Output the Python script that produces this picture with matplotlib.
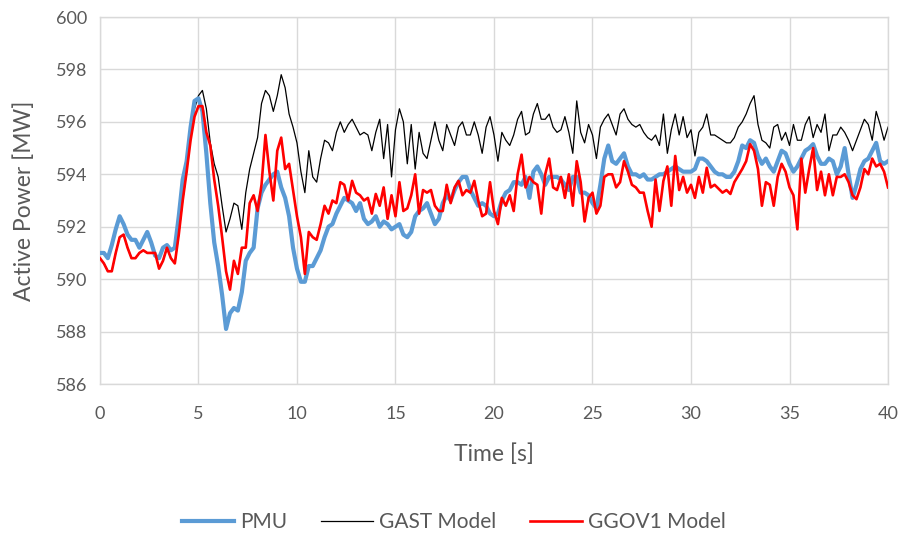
import numpy as np
import matplotlib
matplotlib.use("Agg")
import matplotlib.pyplot as plt

plt.rcParams['font.family'] = ['Lato', 'DejaVu Sans']

# samples every 0.2 s, 0 .. 40 s
pmu = [591.0, 591.0, 590.8, 591.3, 591.9, 592.4, 592.1, 591.7, 591.5, 591.5,
       591.2, 591.5, 591.8, 591.4, 590.9, 590.8, 591.2, 591.3, 591.1, 591.2,
       592.4, 593.8, 594.5, 595.8, 596.8, 596.9, 596.4, 594.8, 592.9, 591.4,
       590.5, 589.4, 588.1, 588.7, 588.9, 588.8, 589.5, 590.7, 591.0, 591.2,
       592.7, 593.3, 593.6, 593.8, 594.0, 594.1, 593.5, 593.1, 592.4, 591.2,
       590.4, 589.9, 589.9, 590.5, 590.5, 590.8, 591.1, 591.6, 592.0, 592.1,
       592.5, 592.8, 593.1, 593.0, 592.9, 592.6, 592.9, 592.3, 592.1, 592.2,
       592.4, 592.0, 592.2, 592.1, 591.9, 592.0, 592.1, 591.7, 591.6, 591.8,
       592.4, 592.6, 592.7, 592.9, 592.5, 592.1, 592.3, 592.9, 593.2, 593.0,
       593.4, 593.7, 593.9, 593.9, 593.4, 593.1, 592.8, 592.9, 592.8, 592.5,
       592.4, 592.5, 593.0, 593.3, 593.4, 593.7, 593.7, 593.6, 593.9, 593.1,
       594.1, 594.3, 594.0, 593.6, 593.9, 593.9, 593.9, 593.8, 593.6, 593.4,
       593.9, 593.9, 593.3, 593.3, 593.2, 592.9, 592.7, 593.6, 594.6, 595.1,
       594.5, 594.4, 594.6, 594.8, 594.3, 594.0, 594.0, 593.9, 594.0, 593.8,
       593.8, 593.9, 594.0, 594.0, 594.1, 594.2, 594.3, 594.2, 594.1, 594.1,
       594.1, 594.2, 594.6, 594.6, 594.5, 594.3, 594.1, 594.0, 594.0, 593.9,
       593.9, 594.1, 594.5, 595.1, 595.0, 595.3, 595.2, 594.7, 594.4, 594.6,
       594.3, 594.1, 594.5, 594.9, 594.8, 594.4, 594.1, 594.3, 594.6, 594.9,
       595.0, 595.15, 594.7, 594.4, 594.4, 594.6, 594.5, 594.0, 594.3, 595.0,
       594.0, 593.1, 593.6, 594.2, 594.5, 594.6, 594.9, 595.2, 594.5, 594.4,
       594.5]

gast = [590.8, 590.6, 590.3, 590.3, 591.0, 591.6, 591.7, 591.2, 590.8, 590.8,
        591.0, 591.1, 591.0, 591.0, 591.0, 590.4, 590.7, 591.2, 590.8, 590.6,
        591.7, 593.0, 594.1, 595.5, 596.5, 597.0, 597.2, 596.5, 595.2, 594.4,
        593.9, 592.8, 591.8, 592.3, 592.9, 592.8, 591.9, 593.3, 594.2, 594.8,
        595.4, 596.7, 597.2, 597.0, 596.4, 597.0, 597.8, 597.3, 596.3, 595.8,
        595.2, 594.1, 593.3, 594.9, 593.9, 593.7, 594.6, 595.3, 595.2, 594.9,
        595.6, 596.0, 595.6, 595.9, 596.1, 595.8, 595.5, 595.6, 595.5, 594.9,
        595.6, 596.1, 594.6, 595.9, 593.9, 595.7, 596.5, 596.0, 594.4, 595.9,
        594.2, 595.6, 594.8, 594.6, 595.3, 596.0, 595.3, 594.9, 595.9, 595.5,
        595.1, 595.8, 596.0, 595.5, 595.5, 596.0, 595.5, 594.8, 595.8, 596.2,
        595.5, 594.5, 595.6, 595.3, 595.1, 595.5, 596.1, 596.4, 595.5, 595.6,
        596.3, 596.7, 596.1, 596.1, 596.3, 595.8, 595.6, 595.7, 596.2, 595.6,
        594.8, 596.8, 595.6, 595.2, 595.9, 595.5, 594.6, 595.8, 596.1, 596.3,
        595.9, 595.5, 596.3, 596.5, 596.1, 595.9, 595.8, 595.9, 595.6, 595.4,
        595.3, 595.5, 595.1, 596.3, 594.8, 595.7, 596.3, 595.5, 596.2, 595.4,
        595.7, 594.7, 595.6, 595.8, 596.3, 595.5, 595.5, 595.4, 595.3, 595.2,
        595.2, 595.4, 595.8, 596.0, 596.3, 596.7, 597.0, 595.9, 595.3, 595.2,
        595.0, 595.8, 595.9, 595.3, 595.6, 595.1, 595.9, 595.3, 595.3, 595.9,
        596.2, 595.4, 595.9, 595.6, 596.3, 594.9, 595.5, 595.5, 595.8, 595.6,
        595.3, 594.9, 595.3, 595.7, 596.1, 595.9, 595.3, 596.4, 595.9, 595.3,
        595.8]

ggov1 = [590.8, 590.6, 590.3, 590.3, 591.0, 591.6, 591.7, 591.2, 590.8, 590.8,
         591.0, 591.1, 591.0, 591.0, 591.0, 590.4, 590.7, 591.2, 590.8, 590.6,
         591.7, 593.0, 594.1, 595.3, 596.2, 596.6, 596.6, 595.6, 595.1, 593.8,
         592.8, 591.6, 590.3, 589.6, 590.7, 590.2, 591.2, 591.2, 592.9, 593.2,
         592.6, 593.6, 595.5, 594.1, 593.0, 594.9, 595.4, 594.2, 594.4, 593.4,
         592.4, 591.6, 590.2, 591.8, 591.6, 591.5, 592.1, 592.8, 592.5, 593.0,
         592.9, 593.7, 593.6, 593.0, 593.75, 593.3, 593.2, 593.0, 593.1, 592.5,
         593.25, 592.8, 593.5, 592.3, 593.2, 592.4, 593.7, 592.6, 592.7, 593.2,
         594.0, 592.5, 593.4, 593.3, 593.4, 592.8, 592.6, 592.6, 593.6, 592.9,
         593.5, 593.75, 593.2, 593.4, 593.3, 593.75, 593.0, 592.4, 592.5, 593.7,
         592.6, 592.1, 593.1, 592.8, 593.2, 592.6, 594.0, 594.75, 593.5, 593.9,
         593.7, 593.6, 592.5, 594.0, 594.6, 593.5, 593.4, 593.9, 593.1, 594.0,
         592.8, 594.5, 593.7, 592.2, 593.1, 593.3, 592.5, 592.8, 593.9, 594.0,
         594.0, 593.5, 593.7, 594.5, 594.1, 593.6, 593.5, 593.3, 593.3, 592.6,
         592.0, 593.8, 592.6, 593.75, 594.3, 592.8, 594.7, 593.4, 593.9, 593.3,
         593.6, 593.1, 593.9, 593.3, 594.25, 593.5, 593.6, 593.45, 593.3, 593.4,
         593.25, 593.7, 593.95, 594.2, 594.5, 595.15, 594.9, 594.2, 592.8, 593.7,
         593.6, 592.8, 593.9, 594.4, 594.1, 593.5, 593.2, 591.9, 594.6, 593.3,
         594.2, 595.0, 593.4, 594.1, 593.2, 594.0, 593.2, 593.9, 593.9, 594.0,
         593.7, 593.2, 593.05, 593.5, 594.2, 594.0, 594.6, 594.3, 594.4, 594.1,
         593.5]

x_ticks = [0, 5, 10, 15, 20, 25, 30, 35, 40]
y_ticks = [586, 588, 590, 592, 594, 596, 598, 600]

text_col = '#595959'
grid_col = '#d9d9d9'

fig = plt.figure(figsize=(9.03, 5.37), dpi=100)
ax = fig.add_axes([0.1107, 0.2849, 0.8727, 0.6834])

t_pmu = np.linspace(0, 40, len(pmu))
t_gast = np.linspace(0, 40, len(gast))
t_ggov = np.linspace(0, 40, len(ggov1))

ax.plot(t_pmu, pmu, color='#5B9BD5', lw=3.0, label='PMU', zorder=3)
ax.plot(t_gast, gast, color='black', lw=0.9, label='GAST Model', zorder=2)
ax.plot(t_ggov, ggov1, color='#FF0000', lw=1.9, label='GGOV1 Model', zorder=4)

ax.set_xlim(0, 40)
ax.set_ylim(586, 600)
ax.set_xticks(x_ticks)
ax.set_yticks(y_ticks)
ax.grid(True, color=grid_col, lw=1.0)
ax.set_axisbelow(True)
for s in ax.spines.values():
    s.set_color(grid_col)
    s.set_linewidth(1.0)
ax.tick_params(length=0, colors=text_col, labelsize=13)
ax.tick_params(axis='x', pad=16)
ax.tick_params(axis='y', pad=9)

ax.set_xlabel('Time [s]', fontsize=16.5, color=text_col, labelpad=15)
ax.set_ylabel('Active Power [MW]', fontsize=16.5, color=text_col, labelpad=15)

leg = fig.legend(loc='center', bbox_to_anchor=(0.503, 0.028), ncol=3,
                 frameon=False, fontsize=15, handlelength=2.5,
                 columnspacing=1.6, handletextpad=0.3)
for txt in leg.get_texts():
    txt.set_color(text_col)

fig.savefig('out.png', dpi=100)
